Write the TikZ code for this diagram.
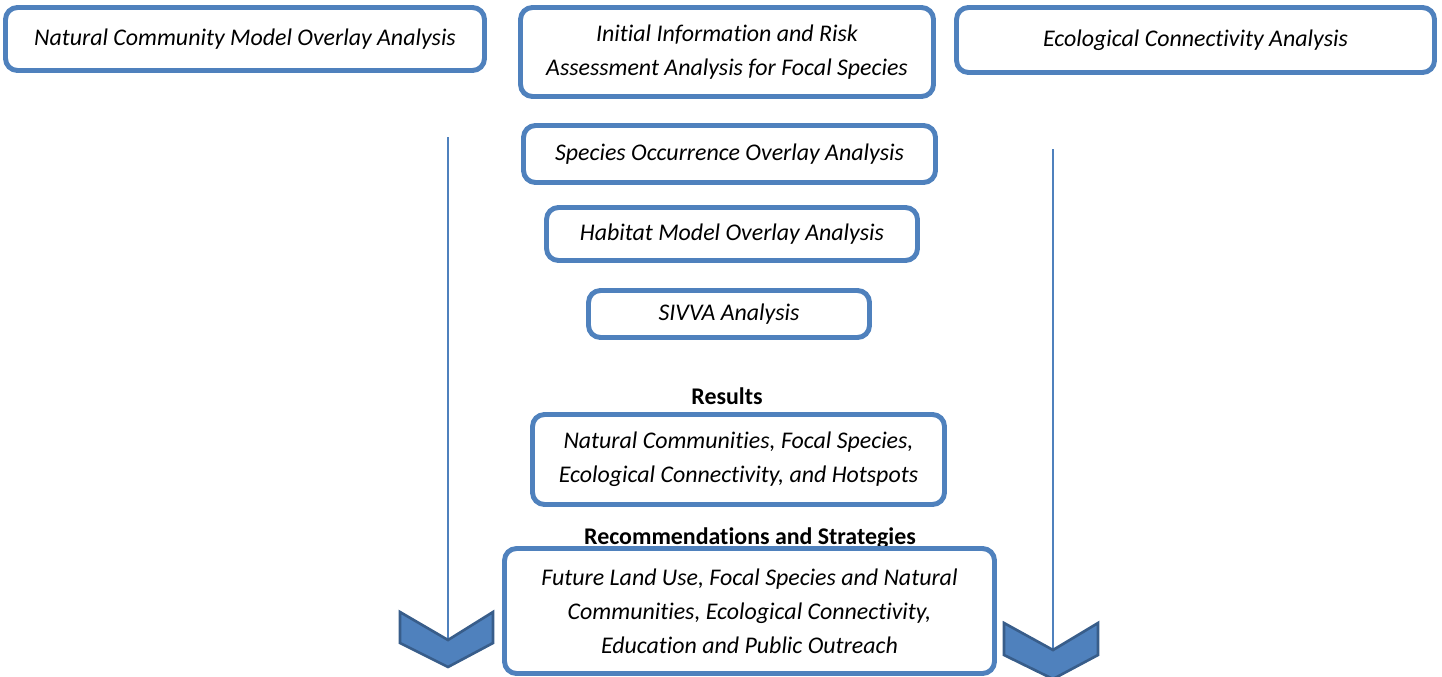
\documentclass[tikz,border=0pt]{standalone}
\usepackage{fontspec}
\setmainfont{Carlito}[RawFeature=-liga]
\definecolor{boxblue}{RGB}{79,129,189}
\definecolor{darkblue}{RGB}{56,93,138}
\tikzset{
    stagebox/.style={draw=boxblue, line width=2.8pt, rounded corners=0.24cm,
        fill=white, align=center, inner sep=0pt,
        font=\fontsize{13.6}{19.4}\selectfont\itshape},
    heading/.style={font=\fontsize{13.6}{16}\selectfont\bfseries},
    flowline/.style={draw=boxblue, line width=0.8pt},
    chevron/.style={fill=boxblue, draw=darkblue, line width=1.5pt, line join=miter}
}
\begin{document}
\begin{tikzpicture}
        \useasboundingbox (0, 0) rectangle (28.84, -13.54);

        % top row
        \node (nc-model) at (4.9, -0.78) [stagebox, minimum width=9.58cm, minimum height=1.26cm] {Natural Community Model Overlay Analysis};
        \node (risk) at (14.54, -1.04) [stagebox, minimum width=8.26cm, minimum height=1.78cm] {Initial Information and Risk\\Assessment Analysis for Focal Species};
        \node (eco-conn) at (23.91, -0.8) [stagebox, minimum width=9.56cm, minimum height=1.3cm] {Ecological Connectivity Analysis};

        % middle column
        \node (occurrence) at (14.59, -3.08) [stagebox, minimum width=8.24cm, minimum height=1.14cm] {Species Occurrence Overlay Analysis};
        \node (habitat) at (14.64, -4.68) [stagebox, minimum width=7.42cm, minimum height=1.06cm] {Habitat Model Overlay Analysis};
        \node (sivva) at (14.58, -6.28) [stagebox, minimum width=5.62cm, minimum height=0.94cm] {SIVVA Analysis};

        \node (results-label) at (14.54, -7.92) [heading] {Results};
        \node (results) at (14.77, -9.19) [stagebox, minimum width=8.24cm, minimum height=1.8cm] {Natural Communities, Focal Species,\\Ecological Connectivity, and Hotspots};

        \node (rec-label) at (15.0, -10.76) [heading] {Recommendations and Strategies};
        \node (rec) at (14.99, -12.22) [stagebox, minimum width=9.8cm, minimum height=2.5cm] {Future Land Use, Focal Species and Natural\\Communities, Ecological Connectivity,\\Education and Public Outreach};

        % side arrows
        \coordinate (left-top) at (8.96, -2.74);
        \coordinate (left-notch) at (8.96, -12.8);
        \coordinate (right-top) at (21.06, -2.98);
        \coordinate (right-notch) at (21.06, -13.0);

        \draw[flowline] (left-top) -- (left-notch);
        \draw[flowline] (right-top) -- (right-notch);

        \draw[chevron] (8.0, -12.24) -- (left-notch) -- (9.86, -12.24) -- (9.86, -12.86)
            -- (8.96, -13.34) -- (8.0, -12.86) -- cycle;
        \draw[chevron] (20.08, -12.46) -- (right-notch) -- (21.96, -12.46) -- (21.96, -13.1)
            -- (21.06, -13.58) -- (20.08, -13.1) -- cycle;

    \end{tikzpicture}
\end{document}
